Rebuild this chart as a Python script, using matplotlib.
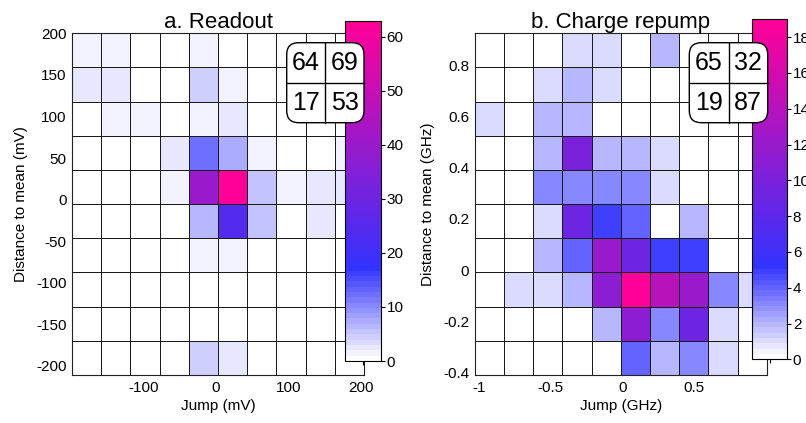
import numpy as np
import matplotlib
matplotlib.use('Agg')
import matplotlib.pyplot as plt
from matplotlib.colors import LinearSegmentedColormap
from matplotlib.patches import FancyBboxPatch

plt.rcParams['font.family'] = ['Liberation Sans', 'DejaVu Sans']

# jump histograms, rows listed from top (largest distance) to bottom
readout_counts = [
    [1, 1, 0, 0, 1, 0, 0, 0, 0, 0],
    [2, 2, 0, 0, 4, 1, 0, 0, 0, 0],
    [0, 1, 1, 0, 1, 2, 0, 0, 0, 0],
    [0, 0, 0, 2, 12, 7, 1, 0, 0, 1],
    [0, 0, 0, 1, 40, 63, 5, 1, 2, 2],
    [0, 0, 0, 0, 6, 24, 5, 0, 2, 0],
    [0, 0, 0, 0, 1, 1, 0, 0, 0, 0],
    [0, 0, 0, 0, 0, 0, 0, 0, 0, 0],
    [0, 0, 0, 0, 0, 0, 0, 0, 0, 0],
    [0, 0, 0, 0, 4, 2, 0, 0, 0, 0],
]
repump_counts = [
    [0, 0, 0, 1, 1, 0, 2, 0, 0, 0],
    [0, 0, 1, 2, 1, 0, 0, 0, 0, 0],
    [1, 0, 2, 2, 0, 0, 0, 0, 0, 0],
    [0, 0, 2, 10, 2, 2, 1, 0, 0, 0],
    [0, 0, 3, 3, 3, 3, 1, 0, 0, 0],
    [0, 0, 1, 9, 5, 4, 0, 2, 0, 0],
    [0, 0, 2, 4, 12, 9, 5, 5, 0, 0],
    [0, 1, 1, 2, 11, 19, 14, 12, 3, 1],
    [0, 0, 0, 0, 2, 11, 3, 9, 1, 0],
    [0, 0, 0, 0, 0, 4, 2, 3, 1, 0],
]

# bin edges
readout_x = np.linspace(-198, 204, 11)
readout_y = np.linspace(-211, 200, 11)
repump_x = np.linspace(-1.03, 1.01, 11)
repump_y = np.linspace(-0.409, 0.924, 11)

# 2x2 quadrant counts
readout_quad = [['64', '69'], ['17', '53']]
repump_quad = [['65', '32'], ['19', '87']]

cmap = LinearSegmentedColormap.from_list(
    'wbp', [(0.0, (1, 1, 1)), (0.27, (0.2, 0.2, 1.0)), (1.0, (1.0, 0.0, 0.6))], N=64)

W, H = 806, 423
fig = plt.figure(figsize=(W / 100, H / 100), dpi=100)


def px_rect(x0, y0, x1, y1):
    # pixel box (top-left origin) -> figure fraction
    return [x0 / W, 1 - y1 / H, (x1 - x0) / W, (y1 - y0) / H]


def panel(ax_rect, cax_rect, box_rect, counts, xe, ye, quad, title,
          xticks, yticks, xlabel, ylabel, cticks):
    ax = fig.add_axes(px_rect(*ax_rect))
    z = np.flipud(np.array(counts, dtype=float))
    vmax = z.max()
    mesh = ax.pcolormesh(xe, ye, z, cmap=cmap, vmin=0, vmax=vmax,
                         edgecolors='#1a1a1a', linewidth=0.65)
    ax.set_xlim(xe[0], xe[-1])
    ax.set_ylim(ye[0], ye[-1])
    ax.set_xticks(xticks)
    ax.set_yticks(yticks)
    ax.set_xticklabels(['%g' % t for t in xticks])
    ax.set_yticklabels(['%g' % t for t in yticks])
    ax.tick_params(length=0, labelsize=11, pad=4)
    ax.set_xlabel(xlabel, fontsize=11, labelpad=3)
    ax.set_ylabel(ylabel, fontsize=11, labelpad=6)
    ax.set_title(title, fontsize=16, pad=3)
    for s in ax.spines.values():
        s.set_color('#222222')
        s.set_linewidth(0.8)

    cax = fig.add_axes(px_rect(*cax_rect))
    cb = fig.colorbar(mesh, cax=cax)
    cb.set_ticks(cticks)
    cb.outline.set_edgecolor('black')
    cb.outline.set_linewidth(0.8)
    cax.tick_params(labelsize=11, length=3, direction='out', pad=1)
    cax.xaxis.set_ticks([0.5])
    cax.tick_params(axis='x', bottom=True, labelbottom=False, length=3, direction='out')

    # quadrant table drawn over the colorbar
    x0, y0, x1, y1 = box_rect
    bw, bh = x1 - x0, y1 - y0
    bax = fig.add_axes(px_rect(x0 - 2, y0 - 2, x1 + 2, y1 + 2))
    bax.set_zorder(5)
    bax.set_xlim(-2, bw + 2)
    bax.set_ylim(-2, bh + 2)
    bax.axis('off')
    bax.add_patch(FancyBboxPatch((0, 0), bw, bh,
                                 boxstyle='round,pad=0,rounding_size=12',
                                 facecolor='white', edgecolor='black', linewidth=1))
    bax.plot([bw / 2, bw / 2], [0, bh], color='black', linewidth=1)
    bax.plot([0, bw], [bh / 2, bh / 2], color='black', linewidth=1)
    for i in range(2):
        for j in range(2):
            bax.text(bw * (0.25 + 0.5 * j), bh * (0.75 - 0.5 * i), quad[i][j],
                     ha='center', va='center', fontsize=18)
    return ax


panel((72, 33.3, 364, 375), (345, 20.7, 381, 361), (286.7, 42.7, 364, 122.7),
      readout_counts, readout_x, readout_y, readout_quad, 'a. Readout',
      [-100, 0, 100, 200], [-200, -150, -100, -50, 0, 50, 100, 150, 200],
      'Jump (mV)', 'Distance to mean (mV)', [0, 10, 20, 30, 40, 50, 60])

panel((474.7, 33.3, 766.7, 375), (751.7, 19.3, 787.3, 359.3), (689.3, 42.7, 767.7, 122.7),
      repump_counts, repump_x, repump_y, repump_quad, 'b. Charge repump',
      [-1, -0.5, 0, 0.5], [-0.4, -0.2, 0, 0.2, 0.4, 0.6, 0.8],
      'Jump (GHz)', 'Distance to mean (GHz)', [0, 2, 4, 6, 8, 10, 12, 14, 16, 18])

fig.savefig('out.png', dpi=100)
